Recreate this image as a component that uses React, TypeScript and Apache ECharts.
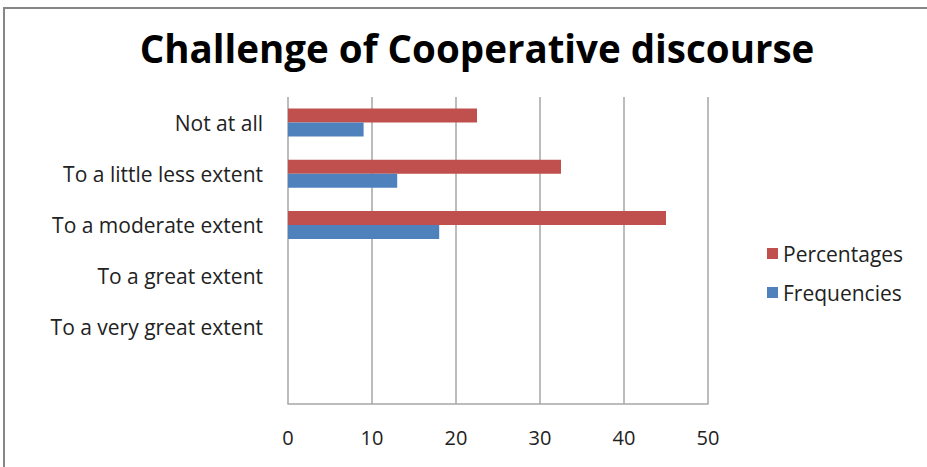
import React, { useEffect, useRef } from "react";
import * as echarts from "echarts";

const categories = [
  "Not at all",
  "To a little less extent",
  "To a moderate extent",
  "To a great extent",
  "To a very great extent",
  "",
];
const percentages = [22.5, 32.5, 45, null, null, null];
const frequencies = [9, 13, 18, null, null, null];
const xTicks = [0, 10, 20, 30, 40, 50];

const FONT = "'Open Sans', sans-serif";

export default function App() {
  const ref = useRef<HTMLDivElement>(null);
  useEffect(() => {
    if (!ref.current) return;
    const chart = echarts.init(ref.current, null, { renderer: "svg" });
    chart.setOption({
      animation: false,
      backgroundColor: "#ffffff",
      title: {
        text: "Challenge of Cooperative discourse",
        left: 472,
        top: 23,
        textAlign: "center",
        textStyle: { fontFamily: FONT, fontWeight: "bold", fontSize: 38.5, color: "#000000" },
      },
      graphic: [
        {
          type: "line",
          shape: { x1: 4, y1: 7, x2: 4, y2: 467 },
          style: { stroke: "#868686", lineWidth: 2 },
        },
        {
          type: "line",
          shape: { x1: 3, y1: 8, x2: 927, y2: 8 },
          style: { stroke: "#868686", lineWidth: 2 },
        },
      ],
      legend: {
        orient: "vertical",
        left: 762,
        top: 238,
        itemWidth: 11,
        itemHeight: 11,
        itemGap: 18,
        icon: "rect",
        textStyle: { fontFamily: FONT, fontSize: 21, color: "#222" },
        data: ["Percentages", "Frequencies"],
      },
      grid: { left: 288, right: 219, top: 97, bottom: 63, containLabel: false },
      xAxis: {
        type: "value",
        min: xTicks[0],
        max: xTicks[xTicks.length - 1],
        interval: 10,
        axisLine: { show: true, lineStyle: { color: "#a6a6a6", width: 1.5 } },
        axisTick: { show: false },
        axisLabel: { margin: 23, fontFamily: FONT, fontSize: 20, color: "#222" },
        splitLine: { show: true, lineStyle: { color: "#a6a6a6", width: 1.5 } },
      },
      yAxis: {
        type: "category",
        inverse: true,
        data: categories,
        axisLine: { show: false },
        axisTick: { show: false },
        axisLabel: { margin: 25, fontFamily: FONT, fontSize: 21, color: "#222" },
      },
      series: [
        {
          name: "Percentages",
          type: "bar",
          data: percentages,
          barWidth: 14,
          barGap: "0%",
          itemStyle: { color: "#C0504D" },
        },
        {
          name: "Frequencies",
          type: "bar",
          data: frequencies,
          barWidth: 14,
          barGap: "0%",
          itemStyle: { color: "#4F81BD" },
        },
      ],
    });
    return () => chart.dispose();
  }, []);
  return (
    <div
      ref={ref}
      style={{ position: "fixed", left: 0, top: 0, width: 927, height: 467 }}
    />
  );
}
